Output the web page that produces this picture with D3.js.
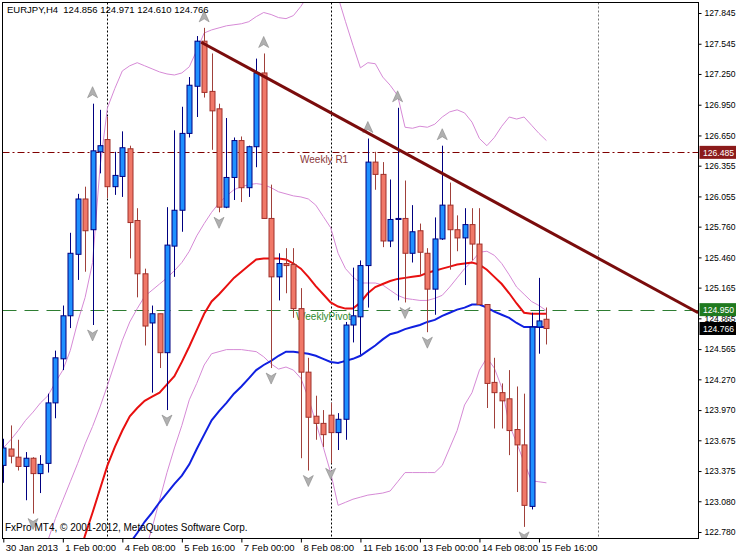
<!DOCTYPE html>
<html><head><meta charset="utf-8">
<script src="https://cdn.jsdelivr.net/npm/d3@7"></script>
<style>body{margin:0;background:#fff}svg{display:block}text{font-family:"Liberation Sans",Arial,sans-serif}</style>
</head><body><svg id="c" width="736" height="552"></svg>
<script>
const symbolTitle = "EURJPY,H4  124.856 124.971 124.610 124.766";
const footer = "FxPro MT4, © 2001-2012, MetaQuotes Software Corp.";
const timeLabels = ["30 Jan 2013","1 Feb 00:00","4 Feb 08:00","5 Feb 16:00","7 Feb 00:00","8 Feb 08:00","11 Feb 16:00","13 Feb 00:00","14 Feb 08:00","15 Feb 16:00"];
const timeLabelIdx = [0,8,16,24,32,40,48,56,64,72];
const separatorIdx = [14,44,80];
const priceTicks = [127.845,127.545,127.250,126.950,126.650,126.355,126.055,125.760,125.460,125.165,124.865,124.565,124.270,123.970,123.675,123.375,123.080,122.780];
const open  = [123.43,123.59,123.51,123.42,123.50,123.35,123.45,124.04,124.47,124.89,125.49,126.03,125.73,126.49,126.61,126.15,126.25,126.52,125.82,125.30,124.82,124.91,124.53,125.57,125.92,126.67,127.13,127.57,127.08,126.91,125.95,126.24,126.60,126.14,126.54,127.26,125.84,125.27,125.40,125.39,124.96,124.34,123.91,123.84,123.92,123.75,123.88,124.80,124.88,125.38,126.39,126.27,125.62,125.83,125.84,125.50,125.72,125.50,125.15,125.64,125.97,125.73,125.65,125.78,125.59,125.00,124.24,124.14,124.08,123.78,123.63,123.03,124.78,124.856];
const high  = [123.69,123.82,123.68,123.56,123.51,123.53,124.13,124.55,124.99,125.70,126.08,126.15,126.96,126.90,126.83,126.49,126.69,126.55,125.94,125.35,124.99,124.91,125.95,126.70,126.93,127.22,127.62,127.70,127.45,126.96,126.82,126.63,126.64,126.55,127.40,127.45,126.17,125.50,125.55,125.55,125.16,124.48,124.11,123.97,124.04,123.94,124.83,125.36,125.43,126.62,126.49,126.39,126.22,126.92,126.21,125.97,125.79,125.55,125.85,126.55,126.19,125.87,125.94,125.94,125.94,125.00,124.48,124.23,124.36,124.20,124.13,124.92,125.26,124.971];
const low   = [123.26,123.45,123.38,123.09,122.96,123.16,123.36,123.89,124.36,124.77,125.24,125.32,124.80,126.28,126.04,126.07,126.05,125.45,125.07,124.60,124.14,124.38,123.97,125.27,125.71,126.63,126.83,127.02,126.51,125.90,125.94,126.02,126.00,126.05,126.34,125.84,124.38,125.04,125.11,124.87,123.50,123.38,123.68,123.61,123.45,123.58,123.68,124.63,124.51,124.97,126.12,125.56,125.56,125.04,125.02,125.41,125.29,124.73,124.90,125.63,125.34,125.52,125.19,125.43,125.00,123.99,123.79,123.79,123.53,123.17,122.83,123.00,124.52,124.610];
const close = [123.60,123.52,123.42,123.50,123.35,123.44,124.04,124.48,124.89,125.50,126.03,125.72,126.50,126.55,126.15,126.26,126.53,125.80,125.30,124.79,124.91,124.53,125.58,125.92,126.67,127.14,127.57,127.07,126.89,125.95,126.24,126.60,126.14,126.54,127.26,125.84,125.27,125.40,125.38,124.96,124.34,123.90,123.84,123.73,123.75,123.88,124.80,124.89,125.38,126.39,126.27,125.62,125.83,125.84,125.50,125.71,125.51,125.15,125.64,125.97,125.73,125.65,125.78,125.59,125.00,124.23,124.14,124.06,123.77,123.63,123.04,124.78,124.84,124.766];
const redMAStart = 10;
const redMA = [122.50,122.75,122.97,123.20,123.43,123.61,123.77,123.91,123.99,124.06,124.10,124.14,124.22,124.30,124.44,124.59,124.75,124.91,125.03,125.10,125.18,125.26,125.32,125.38,125.44,125.45,125.45,125.45,125.44,125.40,125.35,125.27,125.18,125.10,125.02,124.98,124.96,124.96,125.02,125.11,125.17,125.20,125.23,125.25,125.26,125.27,125.28,125.31,125.33,125.35,125.37,125.39,125.40,125.41,125.39,125.34,125.27,125.20,125.11,125.01,124.92,124.91,124.91,124.91];
const blueMAStart = 16;
const blueMA = [122.55,122.67,122.77,122.88,122.97,123.07,123.16,123.25,123.33,123.44,123.59,123.73,123.87,123.96,124.04,124.13,124.20,124.28,124.36,124.41,124.45,124.50,124.54,124.54,124.53,124.52,124.50,124.47,124.44,124.43,124.45,124.47,124.50,124.55,124.60,124.66,124.71,124.73,124.76,124.78,124.80,124.83,124.85,124.89,124.92,124.95,124.97,125.00,125.00,124.97,124.93,124.90,124.87,124.82,124.78,124.78,124.78,124.78];
const bandUpStart = 0;
const bandUp = [123.60,123.68,123.77,123.87,123.95,124.04,124.11,124.24,124.36,124.55,124.83,125.07,125.41,126.34,126.92,127.11,127.28,127.33,127.36,127.33,127.30,127.27,127.25,127.24,127.26,127.32,127.48,127.65,127.68,127.70,127.72,127.73,127.74,127.76,127.81,127.85,127.83,127.80,127.79,127.82,127.91,128.02,128.17,128.21,128.17,128.00,127.76,127.53,127.31,127.36,127.35,127.22,127.14,127.04,126.73,126.72,126.74,126.73,126.76,126.83,126.88,126.90,126.87,126.78,126.62,126.55,126.63,126.74,126.83,126.81,126.83,126.75,126.67,126.60];
const bandMidStart = 6;
const bandMid = [122.70,122.91,123.09,123.27,123.45,123.64,123.81,124.00,124.21,124.43,124.65,124.83,124.96,125.08,125.14,125.20,125.26,125.33,125.41,125.52,125.67,125.79,125.90,125.99,126.06,126.12,126.15,126.17,126.18,126.17,126.14,126.10,126.08,126.06,126.05,126.03,125.97,125.86,125.75,125.50,125.35,125.27,125.21,125.21,125.21,125.19,125.14,125.09,125.06,125.05,125.04,125.04,125.06,125.09,125.17,125.26,125.35,125.42,125.51,125.52,125.48,125.40,125.29,125.17,125.10,125.03,124.99,124.94];
const bandLowStart = 19;
const bandLow = [122.58,122.82,123.09,123.36,123.60,123.82,124.07,124.23,124.41,124.52,124.54,124.56,124.56,124.56,124.55,124.54,124.49,124.42,124.37,124.39,124.36,124.28,124.09,123.85,123.61,123.36,123.04,123.07,123.10,123.12,123.14,123.15,123.16,123.18,123.27,123.36,123.36,123.36,123.36,123.36,123.43,123.60,123.77,124.02,124.14,124.36,124.48,124.38,124.19,123.83,123.65,123.46,123.28,123.27,123.26];
const fractalUp = [12,27,35,49,53,59];
const fractalDown = [4,12,22,29,36,41,44,54,57,70];
const weeklyR1 = 126.485, weeklyPivot = 124.950, lastPrice = 124.766;
const trendIdx = [26.6, 93.4], trendPrice = [127.56, 124.92];

const svg = d3.select("#c");
const L=2.5, R=698.5, T=2.5, B=538.5;
const x = d3.scaleLinear().domain([0,73]).range([3.3,546.4]);
const y = d3.scaleLinear().domain([122.780,127.845]).range([532,13]);

svg.append("defs").append("clipPath").attr("id","pc").append("rect")
  .attr("x",L).attr("y",T).attr("width",R-L).attr("height",B-T);
const g = svg.append("g").attr("clip-path","url(#pc)");

g.selectAll(".sep").data(separatorIdx).join("line")
  .attr("x1",d=>Math.round(x(d))+.5).attr("x2",d=>Math.round(x(d))+.5).attr("y1",T).attr("y2",B)
  .attr("stroke",(d,i)=>i==2?"#777":"#000").attr("stroke-dasharray","2,2");

g.append("line").attr("x1",L).attr("x2",R).attr("y1",Math.round(y(weeklyR1))+.5).attr("y2",Math.round(y(weeklyR1))+.5)
  .attr("stroke","#800000").attr("stroke-dasharray","7,3,2,3");
g.append("line").attr("x1",L).attr("x2",R).attr("y1",Math.round(y(weeklyPivot))+.5).attr("y2",Math.round(y(weeklyPivot))+.5)
  .attr("stroke","#2e7d32").attr("stroke-dasharray","14,8");
g.append("text").attr("x",300).attr("y",y(weeklyR1)+11).attr("font-size",10).attr("fill","#8b3a3a").text("Weekly R1");
g.append("text").attr("x",296).attr("y",y(weeklyPivot)+10).attr("font-size",10).attr("fill","#2e8b2e").text("WeeklyPivot");

const lineFor = (arr,start)=>d3.line().x((d,i)=>x(i+start)).y(d=>y(d))(arr);
[[bandUp,bandUpStart],[bandMid,bandMidStart],[bandLow,bandLowStart]].forEach(([a,s])=>{
  g.append("path").attr("d",lineFor(a,s)).attr("fill","none").attr("stroke","#d68ad6").attr("stroke-width",1);
});
g.append("path").attr("d",lineFor(redMA,redMAStart)).attr("fill","none").attr("stroke","#e81010").attr("stroke-width",2);
g.append("path").attr("d",lineFor(blueMA,blueMAStart)).attr("fill","none").attr("stroke","#1020e0").attr("stroke-width",2);

const idx = d3.range(open.length);
const cg = g.append("g");
idx.forEach(i=>{
  const bull = close[i]>=open[i];
  const cx = Math.round(x(i))+.5;
  const wick = bull?"#000080":"#a0403a";
  cg.append("line").attr("x1",cx).attr("x2",cx).attr("y1",y(high[i])).attr("y2",y(low[i])).attr("stroke",wick);
  const top=y(Math.max(open[i],close[i])), bot=y(Math.min(open[i],close[i]));
  cg.append("rect").attr("x",cx-2.5).attr("width",5).attr("y",top).attr("height",Math.max(1,bot-top))
    .attr("fill",bull?"#1e90ff":"#f07868").attr("stroke",bull?"#000080":"#a0302a").attr("stroke-width",1);
});

const arrowUp="M0,-6 L5,5 L0,2 L-5,5 Z", arrowDn="M0,6 L5,-5 L0,-2 L-5,-5 Z";
fractalUp.forEach(i=>g.append("path").attr("d",arrowUp).attr("transform",`translate(${x(i)},${y(high[i])-11})`)
  .attr("fill","#b0b0b0").attr("stroke","#888").attr("stroke-width",.6));
fractalDown.forEach(i=>g.append("path").attr("d",arrowDn).attr("transform",`translate(${x(i)},${y(low[i])+10})`)
  .attr("fill","#b0b0b0").attr("stroke","#888").attr("stroke-width",.6));

g.append("line").attr("x1",x(trendIdx[0])).attr("y1",y(trendPrice[0])).attr("x2",x(trendIdx[1])).attr("y2",y(trendPrice[1]))
  .attr("stroke","#7a0c0c").attr("stroke-width",3);

svg.append("rect").attr("x",L).attr("y",T).attr("width",R-L).attr("height",B-T).attr("fill","none").attr("stroke","#000");

const ya = svg.append("g").attr("transform",`translate(${R},0)`)
  .call(d3.axisRight(y).tickValues(priceTicks).tickSize(3).tickPadding(3).tickFormat(d3.format(".3f")));
ya.select(".domain").remove();
ya.selectAll("text").attr("font-size",8.6).attr("font-family","Liberation Sans, Arial").attr("fill","#000");
ya.selectAll("line").attr("stroke","#000");

function tag(v,bg){
  const yy=y(v);
  svg.append("rect").attr("x",R+1).attr("y",yy-6.5).attr("width",37).attr("height",13).attr("fill",bg);
  svg.append("text").attr("x",R+4.5).attr("y",yy+3.5).attr("font-size",8.6).attr("fill","#fff").text(d3.format(".3f")(v));
}
tag(weeklyR1,"#8b1a1a"); tag(weeklyPivot,"#1f7a1f"); tag(lastPrice,"#000");

const xa = svg.append("g").attr("transform",`translate(0,${B})`)
  .call(d3.axisBottom(x).tickValues(timeLabelIdx).tickSize(4).tickPadding(2).tickFormat((d,i)=>timeLabels[i]));
xa.select(".domain").remove();
xa.selectAll("text").attr("font-size",9.5).attr("font-family","Liberation Sans, Arial").attr("text-anchor","start").attr("dx",2).attr("fill","#000");
xa.selectAll("line").attr("stroke","#000");

svg.append("text").attr("x",7).attr("y",13).attr("font-size",9.5).attr("fill","#000").attr("xml:space","preserve").text(symbolTitle);
svg.append("text").attr("x",5).attr("y",531).attr("font-size",10).attr("fill","#000").text(footer);
</script></body></html>
